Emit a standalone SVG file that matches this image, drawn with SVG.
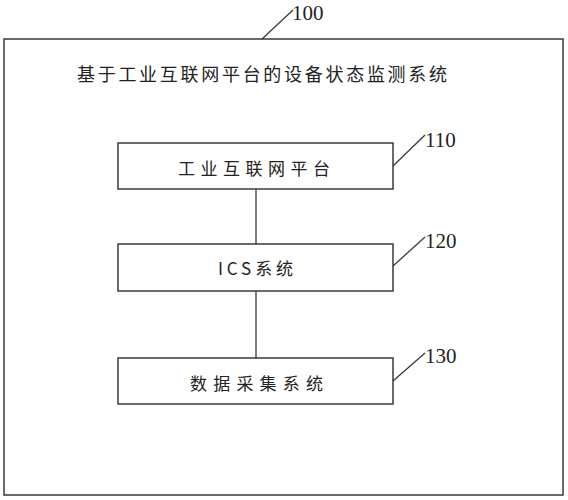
<svg xmlns="http://www.w3.org/2000/svg" width="568" height="500" viewBox="0 0 568 500">
<style>
.box{fill:#fff;stroke:#3a3a3a;stroke-width:1.5}
.ln{stroke:#3a3a3a;stroke-width:1.3;fill:none}
.cn{font-family:"Noto Sans CJK SC","Liberation Sans",sans-serif;fill:#222;dominant-baseline:central}
.num{font-family:"Liberation Serif",serif;font-size:21px;fill:#222}
</style>
<rect width="568" height="500" fill="#fff"/>
<g id="system">
<rect class="box" x="4" y="39" width="559" height="456"/>
<text class="cn" x="77" y="73" font-size="18" textLength="370" lengthAdjust="spacing">基于工业互联网平台的设备状态监测系统</text>
<line class="ln" x1="262" y1="39" x2="293" y2="10"/>
<text class="num" x="292" y="20">100</text>
</g>
<g id="connectors">
<line class="ln" x1="256" y1="189" x2="256" y2="244"/>
<line class="ln" x1="256" y1="291" x2="256" y2="358"/>
</g>
<g id="n110">
<rect class="box" x="118" y="143" width="275" height="46"/>
<text class="cn" x="178" y="167" font-size="17" textLength="152" lengthAdjust="spacing">工业互联网平台</text>
<line class="ln" x1="393" y1="166" x2="425" y2="135"/>
<text class="num" x="425" y="147">110</text>
</g>
<g id="n120">
<rect class="box" x="118" y="244" width="275" height="47"/>
<text class="cn" x="218" y="267" font-size="17" textLength="75" lengthAdjust="spacing">ICS系统</text>
<line class="ln" x1="393" y1="266" x2="425" y2="237"/>
<text class="num" x="425" y="248">120</text>
</g>
<g id="n130">
<rect class="box" x="118" y="358" width="275" height="46"/>
<text class="cn" x="190" y="382" font-size="17" textLength="133" lengthAdjust="spacing">数据采集系统</text>
<line class="ln" x1="393" y1="381" x2="425" y2="353"/>
<text class="num" x="425" y="363">130</text>
</g>
</svg>
